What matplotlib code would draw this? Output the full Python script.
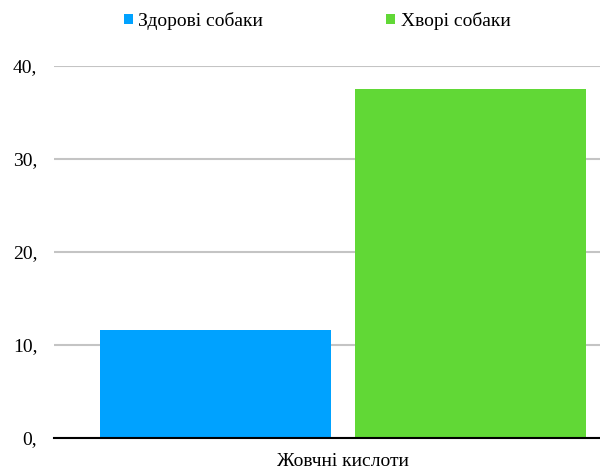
import matplotlib.pyplot as plt

categories = ["Жовчні кислоти"]
series_names = ["Здорові собаки", "Хворі собаки"]
healthy = [11.6]
sick = [37.5]
yticks = [0, 10, 20, 30, 40]
ytick_labels = ["0,", "10,", "20,", "30,", "40,"]

colors = ["#00A2FF", "#61D836"]

plt.rcParams['font.family'] = ['Liberation Serif', 'DejaVu Serif']

fig = plt.figure(figsize=(6, 4.7), dpi=100)
ax = fig.add_axes([54 / 600, 32 / 470, 546 / 600, 372 / 470])

width = 1.0
offset = 0.552
x0 = 0
b1 = ax.bar(x0 - offset, healthy[0], width=width, color=colors[0], label=series_names[0])
b2 = ax.bar(x0 + offset, sick[0], width=width, color=colors[1], label=series_names[1])

ax.set_xlim(-1.251, 1.113)
ax.set_ylim(0, 40)
ax.set_yticks(yticks)
ax.set_yticklabels(ytick_labels, fontsize=14)
ax.set_xticks([x0])
ax.set_xticklabels(categories, fontsize=14)
ax.tick_params(axis='y', length=0, pad=12)
ax.tick_params(axis='x', length=0, pad=11)

ax.grid(axis='y', color='#c4c4c4', linewidth=1.5)
ax.set_axisbelow(True)
for s in ['top', 'right', 'left']:
    ax.spines[s].set_visible(False)
ax.spines['bottom'].set_color('black')
ax.spines['bottom'].set_linewidth(1.5)
ax.spines['bottom'].set_zorder(3)

fig.legend(handles=[b1, b2], labels=series_names, loc='center',
           bbox_to_anchor=(317 / 600, 1 - 21 / 470), ncol=2, frameon=False,
           fontsize=14, handlelength=0.46, handleheight=0.46, handletextpad=0.3,
           columnspacing=6.3)

fig.savefig("out.png", dpi=100)
